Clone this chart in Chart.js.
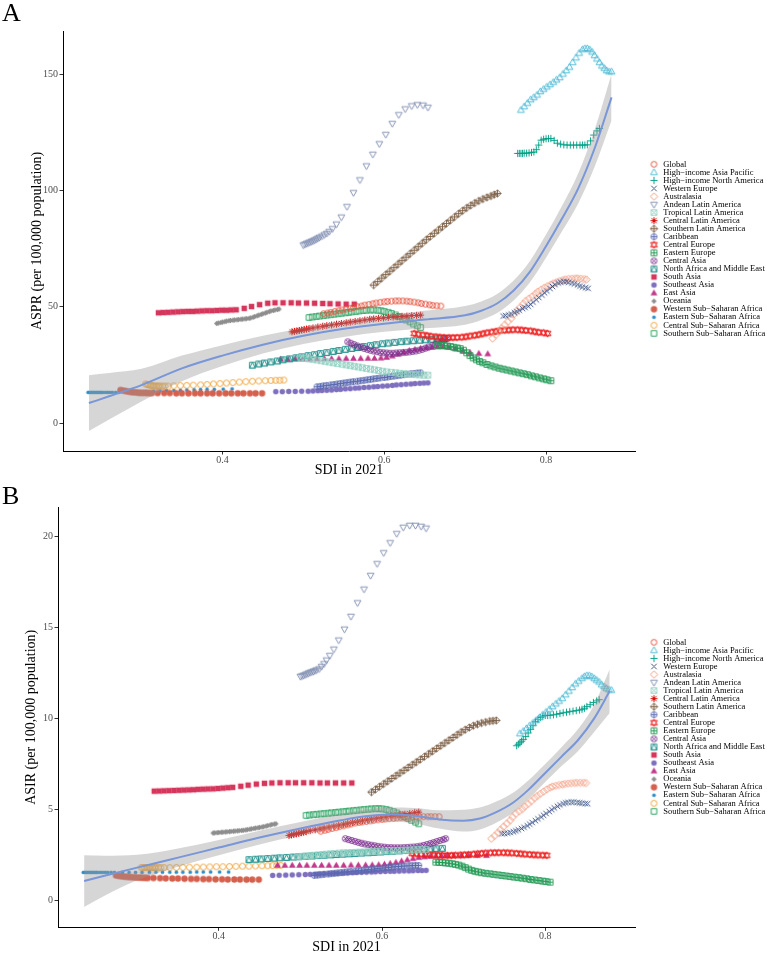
<!DOCTYPE html>
<html><head><meta charset="utf-8">
<script src="https://cdn.jsdelivr.net/npm/chart.js@4.4.1/dist/chart.umd.min.js"></script>
<style>
html,body{margin:0;padding:0;background:#fff;width:767px;height:954px;overflow:hidden;position:relative;}
.wrap{position:absolute;left:0;width:767px;height:477px;}
#wa{top:0;} #wb{top:477px;}
.tag{position:absolute;left:2px;font-family:"Liberation Serif","Times New Roman",serif;font-size:26px;line-height:26px;color:#000;}
</style></head><body>
<div id="wa" class="wrap"><canvas id="ca"></canvas></div>
<div id="wb" class="wrap"><canvas id="cb"></canvas></div>
<div class="tag" style="top:0px">A</div>
<div class="tag" style="top:483px">B</div>
<script>
// ---------------- data ----------------
const regionNames = ['Global','High\u2212income Asia Pacific','High\u2212income North America','Western Europe','Australasia','Andean Latin America','Tropical Latin America','Central Latin America','Southern Latin America','Caribbean','Central Europe','Eastern Europe','Central Asia','North Africa and Middle East','South Asia','Southeast Asia','East Asia','Oceania','Western Sub\u2212Saharan Africa','Eastern Sub\u2212Saharan Africa','Central Sub\u2212Saharan Africa','Southern Sub\u2212Saharan Africa'];

const sdiGlobal = [0.525,0.530,0.534,0.539,0.544,0.548,0.553,0.558,0.562,0.567,0.572,0.576,0.581,0.586,0.590,0.595,0.600,0.604,0.609,0.614,0.618,0.623,0.628,0.632,0.637,0.642,0.646,0.651,0.656,0.660,0.665,0.670];
const asprGlobal = [47,47.3,47.6,48,48.3,48.6,49,49.3,49.7,50,50.3,50.7,51,51.3,51.6,51.9,52.1,52.3,52.4,52.5,52.5,52.5,52.4,52.2,52,51.7,51.4,51.1,50.8,50.6,50.4,50.3];
const asirGlobal = [3.8,3.85,3.9,3.95,4.0,4.05,4.1,4.15,4.2,4.25,4.28,4.31,4.34,4.37,4.4,4.43,4.45,4.47,4.49,4.51,4.53,4.55,4.56,4.57,4.58,4.59,4.6,4.6,4.6,4.6,4.6,4.6];

const sdiHIAP = [0.769,0.773,0.777,0.781,0.785,0.789,0.793,0.797,0.801,0.805,0.809,0.813,0.817,0.821,0.825,0.829,0.833,0.837,0.841,0.845,0.848,0.851,0.854,0.857,0.860,0.863,0.866,0.869,0.872,0.875,0.878,0.881];
const asprHIAP = [134.5,136,137.5,139,140,141,142.5,143.5,144.5,145.5,146.5,147.5,148.5,150,151.5,153,155,157,159,160.5,161,161,160.5,159.5,158,156.5,155,153.5,152.5,151.5,151,151];
const asirHIAP = [9.16,9.3,9.45,9.6,9.75,9.9,10.05,10.2,10.35,10.5,10.65,10.8,10.95,11.1,11.3,11.5,11.7,11.9,12.05,12.2,12.3,12.36,12.35,12.3,12.2,12.1,12.0,11.85,11.75,11.65,11.58,11.55];

const sdiHINA = [0.765,0.767,0.769,0.771,0.773,0.776,0.779,0.782,0.785,0.788,0.791,0.794,0.797,0.800,0.803,0.806,0.810,0.814,0.818,0.822,0.826,0.830,0.834,0.838,0.842,0.845,0.848,0.851,0.855,0.859,0.863,0.866];
const asprHINA = [115.9,115.9,115.9,115.9,116,116,116.1,116.3,116.5,117.5,119.5,121.6,122,122.2,122.3,122.3,121.5,120.3,119.9,119.6,119.5,119.5,119.5,119.5,119.5,119.5,119.5,119.6,121.3,123.8,125.6,126.6];
const asirHINA = [8.5,8.58,8.66,8.75,8.85,9.0,9.2,9.4,9.6,9.82,9.95,10.05,10.12,10.16,10.16,10.17,10.2,10.23,10.27,10.31,10.34,10.37,10.4,10.43,10.46,10.5,10.56,10.65,10.75,10.87,10.96,11.03];

const sdiWE = [0.747,0.750,0.754,0.757,0.761,0.764,0.767,0.771,0.774,0.778,0.781,0.784,0.788,0.791,0.795,0.798,0.801,0.805,0.808,0.811,0.815,0.818,0.822,0.825,0.828,0.832,0.835,0.839,0.842,0.845,0.849,0.852];
const asprWE = [46,46.2,46.5,46.9,47.4,47.9,48.5,49.2,49.7,50.2,51,52,53,54,55,56,56.8,57.8,58.7,59.5,60.2,60.6,60.8,60.8,60.5,60.2,59.8,59.4,58.9,58.5,58.2,57.9];
const asirWE = [3.66,3.68,3.7,3.73,3.77,3.82,3.88,3.95,4.02,4.1,4.19,4.28,4.38,4.48,4.58,4.68,4.78,4.88,4.98,5.08,5.17,5.25,5.31,5.36,5.39,5.4,5.4,5.38,5.36,5.34,5.32,5.31];

const sdiAus = [0.734,0.738,0.742,0.745,0.749,0.753,0.757,0.760,0.764,0.768,0.772,0.775,0.779,0.783,0.787,0.790,0.794,0.798,0.802,0.806,0.809,0.813,0.817,0.821,0.824,0.828,0.832,0.836,0.839,0.843,0.847,0.850];
const asprAus = [36.4,37.9,39.4,40.8,42.2,43.6,45,46.6,48.2,49.8,51.3,52.5,53.5,54.5,55.5,56.5,57.4,58.2,58.9,59.5,60.1,60.6,61.1,61.5,61.8,62,62.1,62.2,62.2,62.1,61.9,61.7];
const asirAus = [3.39,3.55,3.72,3.88,4.05,4.22,4.4,4.58,4.76,4.9,5.02,5.16,5.3,5.46,5.62,5.74,5.86,5.98,6.1,6.2,6.26,6.3,6.34,6.37,6.4,6.42,6.44,6.45,6.46,6.46,6.46,6.45];

const sdiAndean = [0.500,0.502,0.504,0.506,0.508,0.510,0.512,0.514,0.516,0.518,0.520,0.523,0.526,0.529,0.532,0.536,0.541,0.547,0.554,0.562,0.570,0.578,0.586,0.594,0.602,0.610,0.618,0.626,0.634,0.641,0.648,0.654];
const asprAndean = [76.5,76.8,77.1,77.4,77.7,78,78.3,78.6,79,79.4,79.8,80.3,80.9,81.5,82.3,83.5,85.5,88.5,93,99,104.5,110.5,115.5,120,124,128.7,132.5,135,136.3,136.8,136.6,135.7];
const asirAndean = [12.3,12.33,12.36,12.4,12.44,12.48,12.52,12.55,12.58,12.62,12.66,12.72,12.85,13.0,13.2,13.45,13.8,14.3,14.9,15.6,16.35,17.1,17.85,18.5,19.1,19.65,20.15,20.5,20.6,20.6,20.55,20.45];

const sdiTropLA = [0.497,0.502,0.507,0.512,0.517,0.522,0.527,0.532,0.537,0.542,0.548,0.553,0.558,0.563,0.568,0.573,0.578,0.583,0.588,0.593,0.598,0.603,0.609,0.614,0.619,0.624,0.629,0.634,0.639,0.644,0.649,0.654];
const asprTropLA = [28,27.8,27.6,27.4,27.1,26.8,26.5,26.2,25.9,25.6,25.3,25,24.7,24.4,24.1,23.8,23.5,23.2,22.9,22.6,22.3,22,21.8,21.6,21.4,21.2,21,20.9,20.8,20.7,20.6,20.6];
const asirTropLA = [2.4,2.42,2.44,2.46,2.48,2.5,2.52,2.54,2.56,2.58,2.6,2.61,2.62,2.63,2.64,2.65,2.66,2.67,2.68,2.69,2.7,2.71,2.72,2.73,2.74,2.75,2.76,2.77,2.78,2.79,2.8,2.8];

const sdiCentLA = [0.486,0.489,0.492,0.495,0.498,0.501,0.504,0.507,0.512,0.518,0.524,0.529,0.535,0.541,0.547,0.553,0.558,0.564,0.570,0.576,0.582,0.587,0.593,0.599,0.605,0.611,0.616,0.622,0.628,0.634,0.640,0.645];
const asprCentLA = [39.2,39.4,39.6,39.8,40,40.2,40.4,40.6,40.9,41.3,41.6,41.9,42.2,42.5,42.8,43.1,43.4,43.7,44,44.3,44.6,44.8,45,45.2,45.4,45.6,45.7,45.9,46,46.2,46.3,46.4];
const asirCentLA = [3.57,3.6,3.63,3.66,3.69,3.72,3.75,3.78,3.83,3.88,3.93,3.98,4.03,4.08,4.13,4.18,4.23,4.28,4.33,4.38,4.43,4.47,4.51,4.55,4.59,4.63,4.67,4.7,4.74,4.78,4.82,4.85];

const sdiSouthLA = [0.587,0.592,0.597,0.602,0.607,0.612,0.617,0.622,0.627,0.632,0.637,0.642,0.647,0.652,0.657,0.662,0.667,0.672,0.677,0.682,0.687,0.692,0.697,0.702,0.707,0.712,0.717,0.722,0.727,0.732,0.736,0.740];
const asprSouthLA = [59.3,60.8,62.3,63.8,65.3,66.8,68.3,69.8,71.3,72.8,74.3,75.8,77.3,78.8,80.2,81.6,83,84.4,85.8,87.2,88.6,90,91.3,92.5,93.6,94.6,95.5,96.3,97,97.6,98.2,98.7];
const asirSouthLA = [5.95,6.1,6.25,6.4,6.55,6.7,6.85,7.0,7.15,7.3,7.45,7.6,7.75,7.9,8.05,8.2,8.35,8.5,8.65,8.8,8.95,9.1,9.25,9.38,9.5,9.6,9.68,9.75,9.8,9.85,9.87,9.89];

const sdiCarib = [0.517,0.521,0.525,0.529,0.534,0.538,0.542,0.546,0.550,0.554,0.558,0.562,0.567,0.571,0.575,0.579,0.583,0.587,0.591,0.595,0.600,0.604,0.608,0.612,0.616,0.620,0.624,0.628,0.633,0.637,0.641,0.645];
const asprCarib = [15.6,15.8,16,16.2,16.4,16.6,16.8,17,17.2,17.4,17.6,17.8,18,18.2,18.4,18.6,18.8,19,19.2,19.4,19.6,19.8,20,20.2,20.4,20.6,20.8,21,21.2,21.3,21.5,21.6];
const asirCarib = [1.37,1.39,1.41,1.43,1.45,1.47,1.49,1.51,1.53,1.55,1.57,1.59,1.61,1.63,1.65,1.67,1.69,1.71,1.73,1.75,1.77,1.79,1.81,1.83,1.85,1.87,1.88,1.89,1.9,1.91,1.92,1.92];

const sdiCentEu = [0.637,0.642,0.648,0.653,0.658,0.664,0.669,0.674,0.680,0.685,0.690,0.696,0.701,0.706,0.712,0.717,0.722,0.727,0.733,0.738,0.743,0.749,0.754,0.759,0.765,0.770,0.775,0.781,0.786,0.791,0.797,0.802];
const asprCentEu = [38.5,38.2,37.9,37.6,37.3,37.1,36.9,36.8,36.7,36.7,36.8,36.9,37.1,37.4,37.7,38,38.4,38.8,39.1,39.4,39.7,39.9,40,40.1,40.1,40,39.8,39.6,39.3,39,38.8,38.5];
const asirCentEu = [2.58,2.56,2.54,2.52,2.5,2.49,2.48,2.47,2.47,2.47,2.48,2.49,2.5,2.52,2.54,2.56,2.58,2.6,2.61,2.62,2.62,2.62,2.61,2.6,2.58,2.56,2.54,2.52,2.5,2.49,2.48,2.47];

const sdiEastEu = [0.666,0.670,0.674,0.678,0.682,0.686,0.690,0.694,0.698,0.702,0.706,0.710,0.714,0.718,0.722,0.727,0.732,0.737,0.742,0.747,0.752,0.757,0.762,0.767,0.772,0.777,0.782,0.787,0.792,0.797,0.801,0.806];
const asprEastEu = [33.5,33.4,33.3,33.1,32.9,32.6,32.3,32,31.3,30.2,29,28,27.2,26.5,25.9,25.2,24.6,24.1,23.6,23.2,22.8,22.4,22,21.6,21.2,20.8,20.3,19.9,19.4,19,18.6,18.2];
const asirEastEu = [2.1,2.09,2.08,2.06,2.04,2.01,1.98,1.94,1.88,1.8,1.72,1.65,1.6,1.56,1.52,1.49,1.46,1.43,1.4,1.37,1.34,1.31,1.28,1.25,1.22,1.19,1.15,1.12,1.09,1.06,1.03,1.0];

const sdiCentAsia = [0.555,0.559,0.563,0.567,0.571,0.575,0.579,0.583,0.587,0.591,0.595,0.599,0.603,0.607,0.611,0.615,0.619,0.623,0.627,0.631,0.635,0.639,0.643,0.647,0.651,0.655,0.659,0.663,0.667,0.671,0.675,0.678];
const asprCentAsia = [34.9,34.3,33.7,33.1,32.6,32.1,31.7,31.3,31,30.7,30.4,30.2,30.1,30,30,30.1,30.2,30.3,30.4,30.6,30.8,31,31.3,31.7,32.2,32.7,33.2,33.8,34.4,35.1,35.8,36.4];
const asirCentAsia = [3.39,3.34,3.29,3.24,3.19,3.14,3.1,3.06,3.03,3.0,2.97,2.94,2.92,2.9,2.9,2.89,2.89,2.89,2.9,2.91,2.92,2.93,2.95,2.98,3.02,3.07,3.12,3.17,3.23,3.29,3.34,3.39];

const sdiNAME = [0.437,0.445,0.452,0.460,0.468,0.475,0.483,0.491,0.498,0.506,0.514,0.521,0.529,0.537,0.544,0.552,0.560,0.567,0.575,0.583,0.590,0.598,0.605,0.613,0.621,0.628,0.636,0.644,0.651,0.659,0.666,0.674];
const asprNAME = [24.9,25.4,25.8,26.3,26.7,27.2,27.6,28.1,28.5,29,29.4,29.9,30.3,30.8,31.2,31.7,32.1,32.5,32.9,33.3,33.7,34.1,34.4,34.7,35,35.2,35.4,35.6,35.8,36,36.2,36.4];
const asirNAME = [2.24,2.26,2.28,2.3,2.32,2.34,2.36,2.38,2.4,2.42,2.44,2.46,2.48,2.5,2.52,2.54,2.56,2.58,2.6,2.62,2.64,2.66,2.68,2.7,2.72,2.74,2.76,2.78,2.8,2.82,2.84,2.86];

const sdiSAsia = [0.321,0.327,0.333,0.339,0.345,0.351,0.357,0.363,0.369,0.375,0.381,0.387,0.393,0.399,0.405,0.411,0.417,0.427,0.436,0.446,0.456,0.465,0.475,0.485,0.494,0.504,0.514,0.524,0.533,0.543,0.553,0.563];
const asprSAsia = [47.4,47.5,47.6,47.7,47.8,47.9,48,48,48.1,48.2,48.3,48.3,48.4,48.5,48.5,48.6,48.7,49.3,50.1,50.9,51.5,51.7,51.7,51.7,51.6,51.6,51.5,51.4,51.3,51.2,51.1,51.1];
const asirSAsia = [6.0,6.01,6.02,6.03,6.04,6.05,6.06,6.07,6.08,6.1,6.11,6.12,6.13,6.15,6.17,6.19,6.21,6.27,6.33,6.39,6.43,6.45,6.46,6.46,6.46,6.46,6.46,6.45,6.45,6.45,6.45,6.45];

const sdiSEAsia = [0.466,0.474,0.482,0.490,0.498,0.506,0.512,0.518,0.523,0.529,0.535,0.541,0.546,0.552,0.558,0.564,0.569,0.575,0.581,0.587,0.592,0.598,0.604,0.610,0.615,0.621,0.627,0.633,0.638,0.644,0.649,0.654];
const asprSEAsia = [13.5,13.5,13.6,13.6,13.7,13.7,13.8,13.9,14,14.1,14.2,14.4,14.5,14.7,14.8,15,15.1,15.3,15.4,15.6,15.7,15.9,16,16.2,16.4,16.5,16.7,16.8,17,17.1,17.2,17.3];
const asirSEAsia = [1.37,1.38,1.39,1.4,1.41,1.42,1.43,1.44,1.45,1.46,1.47,1.48,1.49,1.5,1.51,1.52,1.53,1.54,1.55,1.56,1.57,1.58,1.59,1.6,1.6,1.61,1.62,1.62,1.63,1.64,1.64,1.65];

const sdiEAsia = [0.472,0.481,0.490,0.499,0.508,0.517,0.526,0.535,0.544,0.553,0.562,0.571,0.580,0.588,0.596,0.603,0.610,0.617,0.624,0.631,0.638,0.645,0.652,0.659,0.666,0.673,0.680,0.688,0.697,0.706,0.717,0.728];
const asprEAsia = [27.4,27.4,27.5,27.5,27.5,27.6,27.6,27.6,27.6,27.7,27.7,27.7,27.8,27.8,27.9,28.2,28.8,29.6,30.4,31.1,31.6,32,32.3,32.5,32.7,32.8,32.6,31.9,31,30.3,29.9,29.7];
const asirEAsia = [1.92,1.92,1.92,1.92,1.92,1.92,1.92,1.92,1.92,1.92,1.93,1.93,1.93,1.94,1.95,1.98,2.02,2.08,2.15,2.22,2.29,2.35,2.39,2.42,2.44,2.45,2.46,2.46,2.46,2.46,2.46,2.46];

const sdiOceania = [0.393,0.395,0.398,0.400,0.403,0.405,0.408,0.410,0.413,0.415,0.418,0.420,0.423,0.425,0.428,0.430,0.433,0.435,0.438,0.440,0.443,0.445,0.448,0.450,0.453,0.455,0.458,0.460,0.463,0.465,0.468,0.470];
const asprOceania = [42.8,43,43.2,43.4,43.6,43.8,44,44.1,44.2,44.3,44.4,44.5,44.6,44.7,44.8,44.9,45,45.2,45.5,45.8,46.1,46.4,46.7,47,47.3,47.6,47.9,48.2,48.4,48.6,48.8,49];
const asirOceania = [3.7,3.71,3.72,3.73,3.74,3.75,3.76,3.77,3.78,3.79,3.8,3.81,3.82,3.83,3.84,3.85,3.87,3.89,3.91,3.93,3.95,3.97,3.99,4.01,4.03,4.05,4.08,4.11,4.14,4.17,4.19,4.21];

const sdiWSSA = [0.274,0.277,0.280,0.283,0.286,0.289,0.292,0.295,0.298,0.301,0.304,0.307,0.310,0.313,0.320,0.328,0.335,0.343,0.350,0.358,0.366,0.373,0.381,0.388,0.396,0.404,0.411,0.419,0.426,0.434,0.441,0.449];
const asprWSSA = [14.2,14,13.8,13.6,13.4,13.3,13.2,13.1,13,13,13,12.9,12.9,12.9,12.9,12.9,12.9,12.8,12.8,12.8,12.8,12.8,12.8,12.8,12.8,12.8,12.8,12.8,12.8,12.8,12.8,12.8];
const asirWSSA = [1.37,1.35,1.33,1.31,1.3,1.29,1.28,1.27,1.26,1.25,1.25,1.24,1.24,1.23,1.23,1.22,1.21,1.2,1.2,1.19,1.18,1.18,1.17,1.17,1.16,1.16,1.15,1.15,1.15,1.14,1.14,1.14];

const sdiESSA = [0.234,0.236,0.238,0.240,0.242,0.244,0.246,0.248,0.250,0.252,0.255,0.258,0.261,0.264,0.268,0.272,0.282,0.290,0.298,0.306,0.315,0.323,0.331,0.340,0.348,0.356,0.365,0.373,0.381,0.390,0.401,0.412];
const asprESSA = [13.2,13.2,13.2,13.2,13.2,13.2,13.2,13.2,13.2,13.2,13.2,13.2,13.2,13.2,13.2,13.3,13.4,13.4,13.5,13.6,13.7,13.8,13.9,14,14.1,14.2,14.3,14.4,14.5,14.5,14.6,14.7];
const asirESSA = [1.54,1.54,1.54,1.54,1.54,1.54,1.54,1.54,1.54,1.54,1.54,1.54,1.54,1.54,1.54,1.54,1.54,1.54,1.54,1.54,1.55,1.55,1.55,1.55,1.55,1.55,1.55,1.56,1.56,1.56,1.56,1.56];

const sdiCSSA = [0.305,0.307,0.309,0.311,0.313,0.315,0.317,0.319,0.321,0.323,0.326,0.329,0.333,0.340,0.348,0.356,0.364,0.373,0.381,0.389,0.397,0.405,0.413,0.421,0.429,0.437,0.445,0.453,0.460,0.466,0.471,0.476];
const asprCSSA = [16.8,16.6,16.4,16.2,16.1,16,15.9,15.9,15.9,15.9,15.9,15.9,15.9,16,16.1,16.2,16.3,16.4,16.6,16.8,17,17.2,17.4,17.6,17.8,18,18.1,18.2,18.3,18.4,18.4,18.5];
const asirCSSA = [1.8,1.8,1.8,1.8,1.8,1.8,1.8,1.8,1.8,1.8,1.8,1.8,1.8,1.8,1.81,1.81,1.82,1.82,1.83,1.84,1.85,1.85,1.86,1.87,1.88,1.88,1.89,1.9,1.9,1.91,1.92,1.92];

const sdiSSSA = [0.507,0.511,0.516,0.520,0.525,0.529,0.534,0.538,0.543,0.547,0.552,0.556,0.560,0.565,0.569,0.574,0.578,0.583,0.587,0.592,0.596,0.600,0.605,0.609,0.614,0.618,0.623,0.627,0.632,0.636,0.641,0.645];
const asprSSSA = [45.4,45.6,45.8,46,46.2,46.4,46.6,46.8,47,47.2,47.4,47.6,47.8,48,48.2,48.4,48.5,48.6,48.6,48.5,48.3,48,47.6,47.1,46.5,45.8,45,44.3,43.5,42.6,41.8,41.1];
const asirSSSA = [4.67,4.69,4.71,4.73,4.75,4.77,4.79,4.81,4.83,4.85,4.87,4.89,4.91,4.93,4.95,4.97,4.99,5.01,5.03,5.04,5.04,5.03,5.0,4.95,4.88,4.8,4.7,4.6,4.5,4.4,4.3,4.21];

// loess fit with confidence band
const smoothSdiA = [0.235,0.26,0.30,0.35,0.40,0.45,0.50,0.55,0.60,0.65,0.70,0.72,0.74,0.76,0.78,0.80,0.82,0.84,0.86,0.881];
const smoothFitA = [8.6,11.5,16.3,23.5,29,33.7,37.5,40.5,42.7,44.5,46.3,48.3,51.5,57,65,76,88,101,118,140];
const smoothLowA = [-3.4,1.5,9.3,18,24.5,29.9,34,37,39.2,40.7,42.3,44.3,47.4,52.7,60.4,71,82.5,94.5,110,130];
const smoothHighA = [20.6,21.5,23.3,29,33.5,37.5,41,44,46.2,48.3,50.3,52.3,55.6,61.3,69.6,81,93.5,107.5,126,150];

const smoothSdiB = [0.235,0.26,0.30,0.35,0.40,0.45,0.50,0.55,0.58,0.61,0.64,0.67,0.70,0.72,0.74,0.76,0.78,0.80,0.82,0.84,0.86,0.879];
const smoothFitB = [1.06,1.35,1.8,2.35,2.9,3.45,3.95,4.4,4.62,4.72,4.65,4.45,4.38,4.5,4.85,5.35,6.1,7.0,7.9,8.8,10.0,11.5];
const smoothLowB = [-0.36,0.25,1.1,1.85,2.48,3.07,3.59,4.04,4.25,4.34,4.23,3.95,3.78,3.9,4.27,4.8,5.58,6.5,7.38,8.2,9.25,10.3];
const smoothHighB = [2.48,2.45,2.5,2.85,3.32,3.83,4.31,4.76,4.99,5.1,5.07,4.95,4.98,5.1,5.43,5.9,6.62,7.5,8.42,9.4,10.75,12.7];

const xTickValues = [0.4, 0.6, 0.8];
const yTickValuesA = [0, 50, 100, 150];
const yTickValuesB = [0, 5, 10, 15, 20];

// ---------------- assembly ----------------
const regionSdi = [sdiGlobal,sdiHIAP,sdiHINA,sdiWE,sdiAus,sdiAndean,sdiTropLA,sdiCentLA,sdiSouthLA,sdiCarib,sdiCentEu,sdiEastEu,sdiCentAsia,sdiNAME,sdiSAsia,sdiSEAsia,sdiEAsia,sdiOceania,sdiWSSA,sdiESSA,sdiCSSA,sdiSSSA];
const regionAspr = [asprGlobal,asprHIAP,asprHINA,asprWE,asprAus,asprAndean,asprTropLA,asprCentLA,asprSouthLA,asprCarib,asprCentEu,asprEastEu,asprCentAsia,asprNAME,asprSAsia,asprSEAsia,asprEAsia,asprOceania,asprWSSA,asprESSA,asprCSSA,asprSSSA];
const regionAsir = [asirGlobal,asirHIAP,asirHINA,asirWE,asirAus,asirAndean,asirTropLA,asirCentLA,asirSouthLA,asirCarib,asirCentEu,asirEastEu,asirCentAsia,asirNAME,asirSAsia,asirSEAsia,asirEAsia,asirOceania,asirWSSA,asirESSA,asirCSSA,asirSSSA];

const regionShapes = ['circle','triUp','plus','cross','diamond','triDown','squareCross','asterisk','diamondPlus','circlePlus','star6','squarePlus','circleCross','squareTri','fSquare','fCircle','fTriangle','fDiamond','fCircleL','fCircleS','circleO','squareO'];
const regionColors = ['#E64B35','#4DBBD5','#00A087','#3C5488','#F39B7F','#8491B4','#91D1C2','#DC0000','#7E6148','#5A68B0','#EE1C1C','#239B56','#7B2F8E','#20908C','#D5365B','#7F6FBF','#C2388B','#8E8E8E','#D4604D','#2F8FCB','#F0A035','#26A05C'];

const SERIF = '"Liberation Serif", "Times New Roman", serif';
const LINE_COLOR = '#7896D8';
const BAND_COLOR = 'rgba(153,153,153,0.4)';

function makeShape(kind, color) {
  const S = 11, m = 5.5, k = 1.1;
  const c = document.createElement('canvas'); c.width = S; c.height = S;
  const g = c.getContext('2d');
  g.strokeStyle = color; g.fillStyle = color; g.lineWidth = 0.95;
  const circ = r => { g.beginPath(); g.arc(m, m, r * k, 0, Math.PI * 2); };
  const poly = p => { g.beginPath(); g.moveTo(m + p[0][0] * k, m + p[0][1] * k); for (let i = 1; i < p.length; i++) g.lineTo(m + p[i][0] * k, m + p[i][1] * k); g.closePath(); };
  const seg = (x1, y1, x2, y2) => { g.beginPath(); g.moveTo(m + x1 * k, m + y1 * k); g.lineTo(m + x2 * k, m + y2 * k); g.stroke(); };
  const triUp = () => poly([[0, -3.3], [3.1, 2.1], [-3.1, 2.1]]);
  const triDn = () => poly([[0, 3.3], [3.1, -2.1], [-3.1, -2.1]]);
  const sq = h => poly([[-h, -h], [h, -h], [h, h], [-h, h]]);
  const dia = h => poly([[0, -h], [h, 0], [0, h], [-h, 0]]);
  switch (kind) {
    case 'circle': circ(2.6); g.stroke(); break;
    case 'triUp': triUp(); g.stroke(); break;
    case 'plus': seg(-3.3, 0, 3.3, 0); seg(0, -3.3, 0, 3.3); break;
    case 'cross': seg(-2.5, -2.5, 2.5, 2.5); seg(-2.5, 2.5, 2.5, -2.5); break;
    case 'diamond': dia(3.3); g.stroke(); break;
    case 'triDown': triDn(); g.stroke(); break;
    case 'squareCross': sq(2.5); g.stroke(); seg(-2.5, -2.5, 2.5, 2.5); seg(-2.5, 2.5, 2.5, -2.5); break;
    case 'asterisk': seg(-3.2, 0, 3.2, 0); seg(0, -3.2, 0, 3.2); seg(-2.4, -2.4, 2.4, 2.4); seg(-2.4, 2.4, 2.4, -2.4); break;
    case 'diamondPlus': dia(3.3); g.stroke(); seg(-3.3, 0, 3.3, 0); seg(0, -3.3, 0, 3.3); break;
    case 'circlePlus': circ(2.7); g.stroke(); seg(-2.7, 0, 2.7, 0); seg(0, -2.7, 0, 2.7); break;
    case 'star6': triUp(); g.stroke(); triDn(); g.stroke(); break;
    case 'squarePlus': sq(2.6); g.stroke(); seg(-2.6, 0, 2.6, 0); seg(0, -2.6, 0, 2.6); break;
    case 'circleCross': circ(2.7); g.stroke(); seg(-1.9, -1.9, 1.9, 1.9); seg(-1.9, 1.9, 1.9, -1.9); break;
    case 'squareTri': sq(2.6); g.stroke(); poly([[0, -2.6], [2.6, 2.6], [-2.6, 2.6]]); g.stroke(); break;
    case 'fSquare': sq(2.5); g.fill(); break;
    case 'fCircle': circ(2.5); g.fill(); break;
    case 'fTriangle': triUp(); g.fill(); break;
    case 'fDiamond': dia(2.4); g.fill(); break;
    case 'fCircleL': circ(2.9); g.fill(); break;
    case 'fCircleS': circ(1.7); g.fill(); break;
    case 'circleO': circ(2.7); g.stroke(); break;
    case 'squareO': sq(2.5); g.stroke(); break;
  }
  return c;
}
const regionImages = regionShapes.map((s, i) => makeShape(s, regionColors[i]));

const legendPlacer = {
  id: 'legendPlacer',
  afterInit(chart, args, opts) {
    const lg = chart.legend; if (!lg) return;
    const fit0 = lg.fit.bind(lg);
    lg.fit = function () { fit0(); this.width = opts.width; };
    const draw0 = lg.draw.bind(lg);
    lg.draw = function () {
      const s = { l: this.left, t: this.top, b: this.bottom };
      const pad = this.options.labels.padding;
      const colH = (this.columnSizes && this.columnSizes[0]) ? this.columnSizes[0].height : 0;
      this.left = opts.x - pad;
      this.top = opts.y0 - pad - 2;
      this.bottom = opts.y0 + colH + 2;
      draw0();
      this.left = s.l; this.top = s.t; this.bottom = s.b;
    };
  }
};

function pts(xs, ys) { return xs.map((x, i) => ({ x: x, y: ys[i] })); }

function buildPanel(canvasId, values, sm, cfg) {
  const datasets = [
    { type: 'line', label: '_fit', data: pts(sm.x, sm.fit), borderColor: LINE_COLOR, borderWidth: 2, pointRadius: 0, cubicInterpolationMode: 'monotone', fill: false, order: 0 },
    { type: 'line', label: '_hi', data: pts(sm.x, sm.hi), borderColor: 'rgba(0,0,0,0)', borderWidth: 0, pointRadius: 0, cubicInterpolationMode: 'monotone', fill: '+1', backgroundColor: BAND_COLOR, order: 0 },
    { type: 'line', label: '_lo', data: pts(sm.x, sm.lo), borderColor: 'rgba(0,0,0,0)', borderWidth: 0, pointRadius: 0, cubicInterpolationMode: 'monotone', fill: false, order: 0 }
  ];
  regionNames.forEach((name, k) => {
    datasets.push({ type: 'scatter', label: name, data: pts(regionSdi[k], values[k]), pointStyle: regionImages[k], pointRadius: 3, borderColor: regionColors[k], backgroundColor: regionColors[k], showLine: false, order: 1 });
  });
  const axisGrid = { display: true, drawOnChartArea: false, drawTicks: true, tickLength: 3.5, tickColor: '#333333', color: '#333333', tickWidth: 1 };
  const axisBorder = { display: true, color: '#000000', width: 1 };
  return new Chart(document.getElementById(canvasId), {
    type: 'scatter',
    data: { datasets },
    plugins: [legendPlacer],
    options: {
      responsive: true, maintainAspectRatio: false, animation: false, devicePixelRatio: 1,
      layout: { padding: { top: cfg.top, left: 0, right: 0, bottom: 0 } },
      scales: {
        x: {
          type: 'linear', min: 0.203, max: 0.910,
          afterBuildTicks: s => { s.ticks = xTickValues.map(v => ({ value: v })); },
          afterFit: s => { s.height = cfg.xAxisH; },
          grid: axisGrid, border: axisBorder,
          ticks: { font: { family: SERIF, size: 10, lineHeight: 1 }, color: '#4D4D4D', padding: 0.5, maxRotation: 0, autoSkip: false, callback: v => Number(v).toFixed(1) },
          title: { display: true, text: 'SDI in 2021', font: { family: SERIF, size: 14, lineHeight: 1.2 }, color: '#000', padding: { top: 0, bottom: cfg.xTitlePad } }
        },
        y: {
          type: 'linear', min: cfg.yMin, max: cfg.yMax,
          afterBuildTicks: s => { s.ticks = cfg.yTicks.map(v => ({ value: v })); },
          afterFit: s => { s.width = cfg.yAxisW; },
          grid: axisGrid, border: axisBorder,
          ticks: { font: { family: SERIF, size: 10 }, color: '#4D4D4D', padding: 1.5, callback: v => String(v) },
          title: { display: true, text: cfg.yTitle, font: { family: SERIF, size: 14, lineHeight: 1.2 }, color: '#000', padding: { top: cfg.yTitlePad, bottom: 0 } }
        }
      },
      plugins: {
        tooltip: { enabled: false },
        legend: {
          display: true, position: 'right', align: 'center',
          labels: { usePointStyle: true, pointStyleWidth: 10, boxHeight: 8.5, font: { family: SERIF, size: 8.5 }, color: '#000', padding: -0.45, filter: it => !it.text.startsWith('_') }
        },
        legendPlacer: { width: 767 - cfg.right, x: 649, y0: cfg.legendY0 }
      }
    }
  });
}

buildPanel('ca', regionAspr, { x: smoothSdiA, fit: smoothFitA, lo: smoothLowA, hi: smoothHighA },
  { top: 31, right: 635, yAxisW: 63, xAxisH: 26, yMin: -12, yMax: 168.5, yTicks: yTickValuesA, yTitle: 'ASPR (per 100,000 population)', yTitlePad: 28.6, xTitlePad: -2, legendY0: 160.05 });
buildPanel('cb', regionAsir, { x: smoothSdiB, fit: smoothFitB, lo: smoothLowB, hi: smoothHighB },
  { top: 30.3, right: 635, yAxisW: 58, xAxisH: 26.7, yMin: -1.48, yMax: 21.6, yTicks: yTickValuesB, yTitle: 'ASIR (per 100,000 population)', yTitlePad: 22.6, xTitlePad: -2, legendY0: 161.05 });
</script>
</body></html>
